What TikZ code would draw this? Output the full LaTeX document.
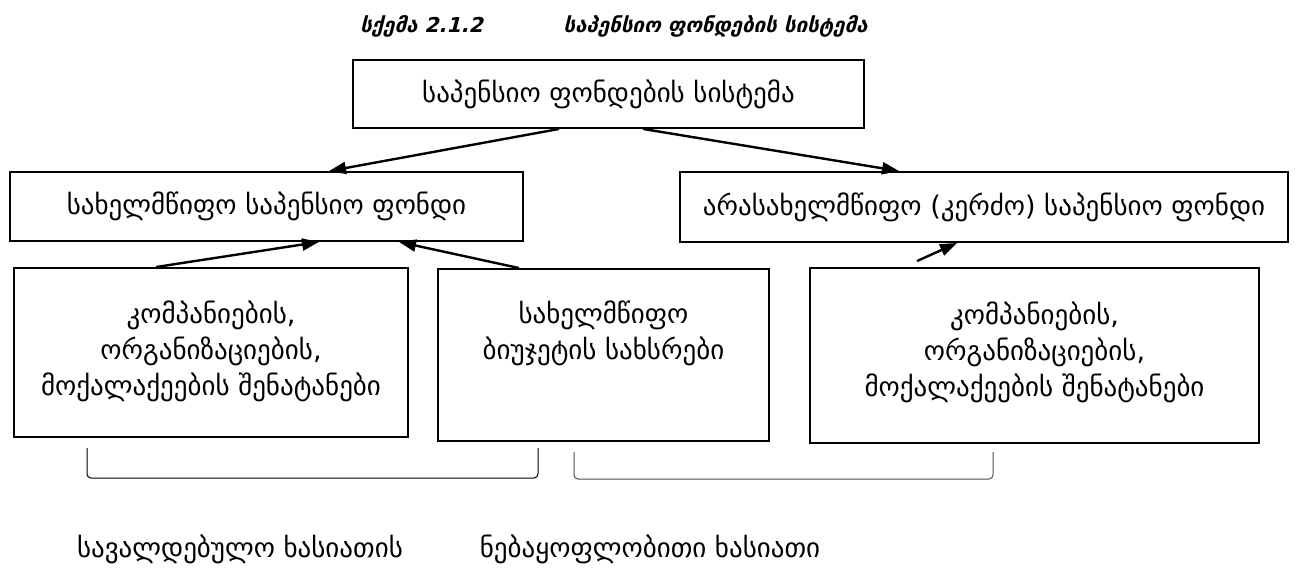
\documentclass[tikz,border=0pt]{standalone}
\usepackage{fontspec}
\setmainfont{DejaVu Sans}
\newfontfamily\titlefont{DejaVu Sans}[FakeSlant=0.25]
\usetikzlibrary{arrows.meta}

\begin{document}
\begin{tikzpicture}[x=1pt,y=-1pt,
  box/.style={draw,line width=1.9pt,inner sep=0pt,align=center,
    font=\fontsize{27}{36}\selectfont},
  lbl/.style={inner sep=0pt,font=\fontsize{27}{36}\selectfont},
  ttl/.style={inner sep=0pt,font=\titlefont\bfseries\fontsize{20.5}{24}\selectfont},
  arr/.style={line width=2.4pt,-{Triangle[length=17pt,width=12pt]}},
  bracket/.style={line width=1pt,rounded corners=4pt}]
\useasboundingbox[fill=white] (0,0) rectangle (1295,569);

% title
\node[ttl,anchor=east] (ttlnum) at (483,26) {სქემა 2.1.2};
\node[ttl,anchor=west] (ttltxt) at (563,26) {საპენსიო ფონდების სისტემა};

% boxes
\node[box,minimum width=511pt,minimum height=68pt] (top) at (608.5,94) {საპენსიო ფონდების სისტემა};
\node[box,minimum width=513pt,minimum height=69pt] (left) at (266.5,206.5) {სახელმწიფო საპენსიო ფონდი};
\node[box,minimum width=608pt,minimum height=70pt] (right) at (984,207) {არასახელმწიფო (კერძო) საპენსიო ფონდი};
\node[box,minimum width=394pt,minimum height=169pt] (bl) at (211,352.5)
  {კომპანიების,\\ორგანიზაციების,\\მოქალაქეების შენატანები\\[-27pt]\mbox{}};
\node[box,minimum width=331pt,minimum height=172pt] (mid) at (603.5,355)
  {სახელმწიფო\\ბიუჯეტის სახსრები\\\mbox{}\\[-22pt]\mbox{}};
\node[box,minimum width=449pt,minimum height=175pt] (br) at (1034.5,355.5)
  {კომპანიების,\\ორგანიზაციების,\\მოქალაქეების შენატანები\\[-23pt]\mbox{}};

% arrows
\draw[arr] ([xshift=207pt]top.south west) -- ([xshift=320pt]left.north west);
\draw[arr] ([xshift=291pt]top.south west) -- ([xshift=220pt]right.north west);
\draw[arr] ([xshift=143pt]bl.north west) -- ([xshift=310pt]left.south west);
\draw[arr] ([xshift=82pt]mid.north west) -- ([xshift=390pt]left.south west);
\draw[arr] ([xshift=108pt,yshift=6pt]br.north west) -- ([xshift=278pt]right.south west);

% brackets
\draw[bracket] (87,448) -- (87,478) -- (538,478) -- (538,448);
\draw[bracket,draw=black!70] (574,452) -- (574,479) -- (993,479) -- (993,452);

% bracket labels
\node[lbl] (oblig) at (240,549) {სავალდებულო ხასიათის};
\node[lbl] (volun) at (650,549) {ნებაყოფლობითი ხასიათი};
\end{tikzpicture}
\end{document}
